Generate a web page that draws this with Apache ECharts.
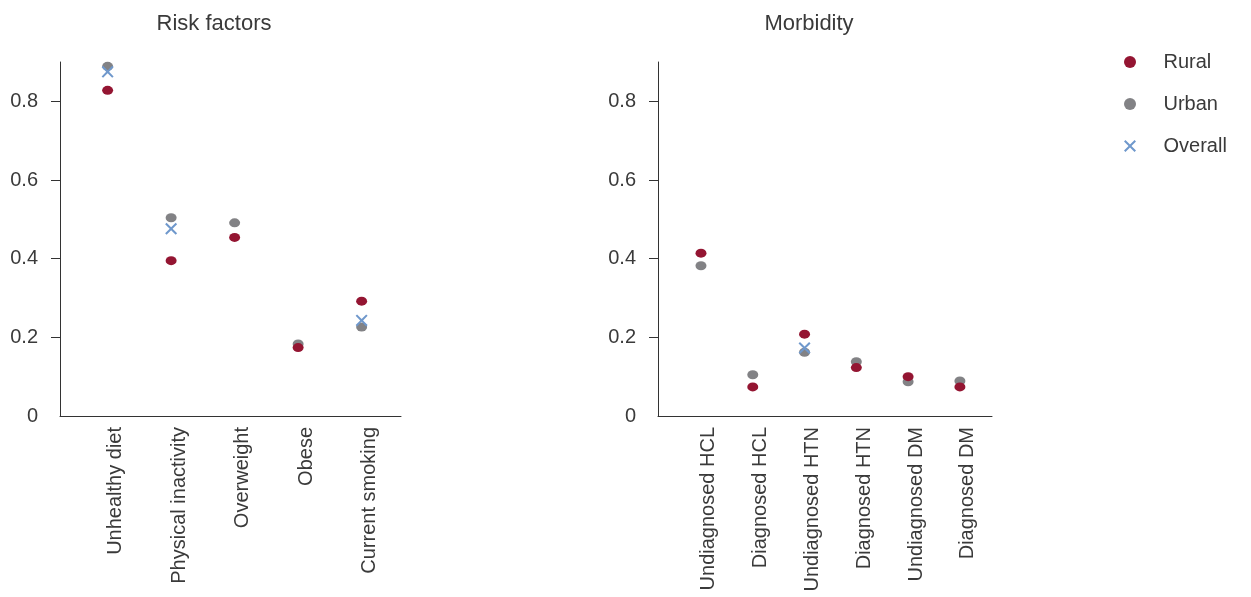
<!DOCTYPE html>
<html>
<head>
<meta charset="utf-8">
<script src="https://cdn.jsdelivr.net/npm/echarts@6/dist/echarts.min.js"></script>
<style>
  html, body { margin: 0; padding: 0; background: #fff; }
  #chart { width: 1251px; height: 597px; }
</style>
</head>
<body>
<div id="chart"></div>
<script>
// data
const riskCategories = ['Unhealthy diet', 'Physical inactivity', 'Overweight', 'Obese', 'Current smoking'];
const riskRural = [0.828, 0.395, 0.454, 0.174, 0.292];
const riskUrban = [0.889, 0.504, 0.491, 0.183, 0.226];
const riskOverall = [0.875, 0.476, null, null, 0.243];

const morbCategories = ['Undiagnosed HCL', 'Diagnosed HCL', 'Undiagnosed HTN', 'Diagnosed HTN', 'Undiagnosed DM', 'Diagnosed DM'];
const morbRural = [0.414, 0.074, 0.208, 0.123, 0.100, 0.074];
const morbUrban = [0.382, 0.105, 0.162, 0.138, 0.087, 0.089];
const morbOverall = [null, null, 0.173, null, null, null];

const yLabels = [0, 0.2, 0.4, 0.6, 0.8];
const yTicks = [0.2, 0.4, 0.6, 0.8];

const RURAL = '#941532';
const URBAN = '#828285';
const OVERALL = '#6f98cc';
const TEXT = '#3a3a3a';
const FONT = 'Liberation Sans';
const CROSS = 'path://M0,1.2L1.2,0L5,3.8L8.8,0L10,1.2L6.2,5L10,8.8L8.8,10L5,6.2L1.2,10L0,8.8L3.8,5Z';

let chart = echarts.init(document.getElementById('chart'));

// [index, value] pairs, skipping missing values
function toPoints(arr) {
    return arr.map((v, i) => [i, v]).filter(p => p[1] != null);
}

function xAxisFor(idx, cats, min, max) {
    return {
        type: 'value',
        gridIndex: idx,
        min: min,
        max: max,
        splitLine: { show: false },
        axisLine: { show: true, onZero: false, lineStyle: { color: '#333', width: 1 } },
        axisTick: { show: false },
        axisLabel: {
            customValues: cats.map((c, i) => i),
            formatter: v => cats[Math.round(v)] || '',
            rotate: 90,
            margin: 11,
            verticalAlign: 'top',
            lineHeight: 16,
            color: TEXT,
            fontFamily: FONT,
            fontSize: 20
        }
    };
}

function yAxisFor(idx) {
    return {
        type: 'value',
        gridIndex: idx,
        min: 0,
        max: 0.9,
        splitLine: { show: false },
        axisLine: { show: true, onZero: false, lineStyle: { color: '#333', width: 1 } },
        axisTick: { show: true, length: 9, customValues: yTicks, lineStyle: { color: '#333' } },
        axisLabel: {
            customValues: yLabels,
            formatter: v => (v === 0 ? '0' : v.toFixed(1)),
            margin: 22,
            color: TEXT,
            fontFamily: FONT,
            fontSize: 20
        }
    };
}

function seriesFor(idx, rural, urban, overall) {
    return [
        { name: 'Rural', type: 'scatter', xAxisIndex: idx, yAxisIndex: idx, data: toPoints(rural),
          symbol: 'circle', symbolSize: [11, 9], itemStyle: { color: RURAL, opacity: 1 }, z: 4 },
        { name: 'Urban', type: 'scatter', xAxisIndex: idx, yAxisIndex: idx, data: toPoints(urban),
          symbol: 'circle', symbolSize: [11, 9], itemStyle: { color: URBAN, opacity: 1 }, z: 2 },
        { name: 'Overall', type: 'scatter', xAxisIndex: idx, yAxisIndex: idx, data: toPoints(overall),
          symbol: CROSS, symbolSize: 12, itemStyle: { color: OVERALL, opacity: 1 }, z: 3 }
    ];
}

const option = {
    animation: false,
    backgroundColor: '#fff',
    textStyle: { fontFamily: FONT },
    graphic: [
        { type: 'text', x: 214, y: 24, style: { text: 'Risk factors', fill: TEXT, font: '22px "Liberation Sans"', textAlign: 'center', textVerticalAlign: 'middle' } },
        { type: 'text', x: 809, y: 24, style: { text: 'Morbidity', fill: TEXT, font: '22px "Liberation Sans"', textAlign: 'center', textVerticalAlign: 'middle' } }
    ],
    legend: {
        orient: 'vertical',
        left: 1119,
        top: 47,
        itemWidth: 13,
        itemHeight: 12,
        itemGap: 22,
        textStyle: { color: TEXT, fontFamily: FONT, fontSize: 20, padding: [0, 0, 0, 22] },
        data: [
            { name: 'Rural', icon: 'circle' },
            { name: 'Urban', icon: 'circle' },
            { name: 'Overall', icon: CROSS }
        ]
    },
    grid: [
        { left: 60, top: 62, width: 341, height: 354 },
        { left: 658, top: 62, width: 334, height: 354 }
    ],
    xAxis: [
        xAxisFor(0, riskCategories, -0.75, 4.62),
        xAxisFor(1, morbCategories, -0.83, 5.62)
    ],
    yAxis: [yAxisFor(0), yAxisFor(1)],
    series: [
        ...seriesFor(0, riskRural, riskUrban, riskOverall),
        ...seriesFor(1, morbRural, morbUrban, morbOverall)
    ]
};

chart.setOption(option);
</script>
</body>
</html>
